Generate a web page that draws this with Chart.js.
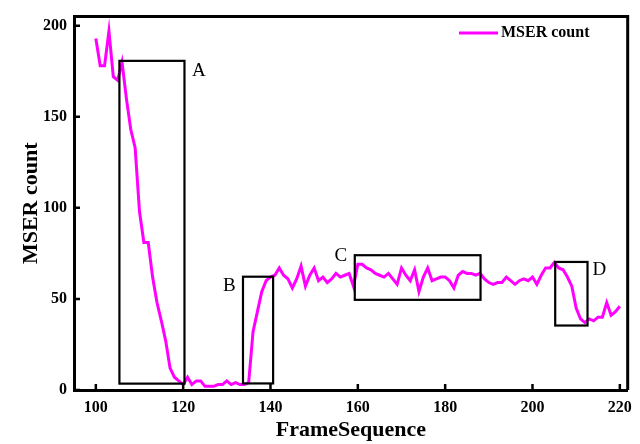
<!DOCTYPE html>
<html>
<head>
<meta charset="utf-8">
<script src="https://cdn.jsdelivr.net/npm/chart.js@4/dist/chart.umd.min.js"></script>
<style>
  body { margin: 0; background: #fff; }
  #wrap { width: 640px; height: 444px; }
</style>
</head>
<body>
<div id="wrap"><canvas id="mserChart"></canvas></div>
<script>
const frames = [];
for (let f = 100; f <= 220; f++) frames.push(f);

const mserCount = [
  193, 178, 178, 197, 172, 170, 180, 160, 143, 133,
  98, 81, 81, 62, 48, 38, 27, 12, 7, 5,
  3, 7, 3, 5, 5, 2, 2, 2, 3, 3,
  5, 3, 4, 3, 3, 4, 32, 43, 54, 60,
  62, 63, 67, 63, 61, 56, 61, 68, 57, 63,
  67, 60, 62, 59, 61, 64, 62, 63, 64, 57,
  69, 69, 67, 66, 64, 63, 62, 64, 61, 58,
  67, 63, 60, 66, 54, 62, 67, 60, 61, 62,
  62, 60, 56, 63, 65, 64, 64, 63, 64, 61,
  59, 58, 59, 59, 62, 60, 58, 60, 61, 60,
  62, 58, 63, 67, 67, 70, 67, 66, 62, 57,
  45, 39, 37, 39, 38, 40, 40, 48, 41, 43,
  46
];

const xTicks = [100, 120, 140, 160, 180, 200, 220];
const yTicks = [0, 50, 100, 150, 200];

// highlighted regions, their corners and where the letter goes
const boxNames = ['A', 'B', 'C', 'D'];
const boxX = [[105.4, 120.3], [133.7, 140.6], [159.3, 188.1], [205.2, 212.6]];
const boxY = [[3.5, 180.7], [3.6, 62.2], [49.5, 74], [35.4, 70.3]];
const boxLabelPos = [[123.6, 175], [130.6, 57], [156.1, 73.6], [215.3, 66]];

const serif = '"Liberation Serif", "Times New Roman", serif';

const decorations = {
  id: 'decorations',
  afterDraw(chart) {
    const { ctx, chartArea: a, scales: { x, y } } = chart;
    ctx.save();
    // frame top / right
    ctx.strokeStyle = '#000';
    ctx.lineWidth = 3;
    ctx.beginPath();
    ctx.moveTo(a.left, a.top);
    ctx.lineTo(a.right, a.top);
    ctx.lineTo(a.right, a.bottom);
    ctx.stroke();
    // inward ticks
    ctx.lineWidth = 2.5;
    ctx.beginPath();
    xTicks.forEach(v => {
      const px = x.getPixelForValue(v);
      ctx.moveTo(px, a.bottom);
      ctx.lineTo(px, a.bottom - 6);
    });
    yTicks.forEach(v => {
      const py = y.getPixelForValue(v);
      ctx.moveTo(a.left, py);
      ctx.lineTo(a.left + 6, py);
    });
    ctx.stroke();
    // boxes
    ctx.lineWidth = 2.2;
    ctx.font = '19px ' + serif;
    ctx.fillStyle = '#000';
    ctx.textAlign = 'center';
    ctx.textBaseline = 'middle';
    boxNames.forEach((name, i) => {
      const x0 = x.getPixelForValue(boxX[i][0]);
      const x1 = x.getPixelForValue(boxX[i][1]);
      const y0 = y.getPixelForValue(boxY[i][0]);
      const y1 = y.getPixelForValue(boxY[i][1]);
      ctx.strokeRect(x0, y1, x1 - x0, y0 - y1);
      ctx.fillText(name, x.getPixelForValue(boxLabelPos[i][0]), y.getPixelForValue(boxLabelPos[i][1]));
    });
    // legend
    ctx.strokeStyle = '#ff00ff';
    ctx.lineWidth = 3;
    ctx.beginPath();
    ctx.moveTo(459, 33);
    ctx.lineTo(498, 33);
    ctx.stroke();
    ctx.font = 'bold 16px ' + serif;
    ctx.textAlign = 'left';
    ctx.fillText('MSER count', 501, 33);
    ctx.restore();
  }
};

new Chart(document.getElementById('mserChart'), {
  type: 'line',
  data: {
    datasets: [{
      label: 'MSER count',
      data: frames.map((f, i) => ({ x: f, y: mserCount[i] })),
      borderColor: '#ff00ff',
      backgroundColor: '#ff00ff',
      borderWidth: 3,
      pointRadius: 0,
      tension: 0
    }]
  },
  options: {
    responsive: true,
    maintainAspectRatio: false,
    animation: false,
    layout: { padding: { left: 0, right: 12, top: 13, bottom: 0 } },
    plugins: {
      legend: { display: false },
      tooltip: { enabled: false }
    },
    scales: {
      x: {
        type: 'linear',
        min: 95,
        max: 221.8,
        afterBuildTicks: s => { s.ticks = xTicks.map(v => ({ value: v })); },
        afterFit: s => { s.height = 54; },
        grid: { display: true, drawOnChartArea: false, drawTicks: false },
        border: { display: true, color: '#000', width: 3 },
        ticks: {
          padding: 8,
          color: '#000',
          maxRotation: 0,
          font: { family: serif, size: 16, weight: 'bold' }
        },
        title: {
          display: true,
          text: 'FrameSequence',
          color: '#000',
          padding: { top: 0, bottom: 0 },
          font: { family: serif, size: 22, weight: 'bold' }
        }
      },
      y: {
        min: 0,
        max: 205,
        afterBuildTicks: s => { s.ticks = yTicks.map(v => ({ value: v })); },
        afterFit: s => { s.width = 74; },
        grid: { display: true, drawOnChartArea: false, drawTicks: false },
        border: { display: true, color: '#000', width: 3 },
        ticks: {
          padding: 7,
          color: '#000',
          font: { family: serif, size: 16, weight: 'bold' }
        },
        title: {
          display: true,
          text: 'MSER count',
          color: '#000',
          padding: { top: 18, bottom: 0 },
          font: { family: serif, size: 22, weight: 'bold' }
        }
      }
    }
  },
  plugins: [decorations]
});
</script>
</body>
</html>
